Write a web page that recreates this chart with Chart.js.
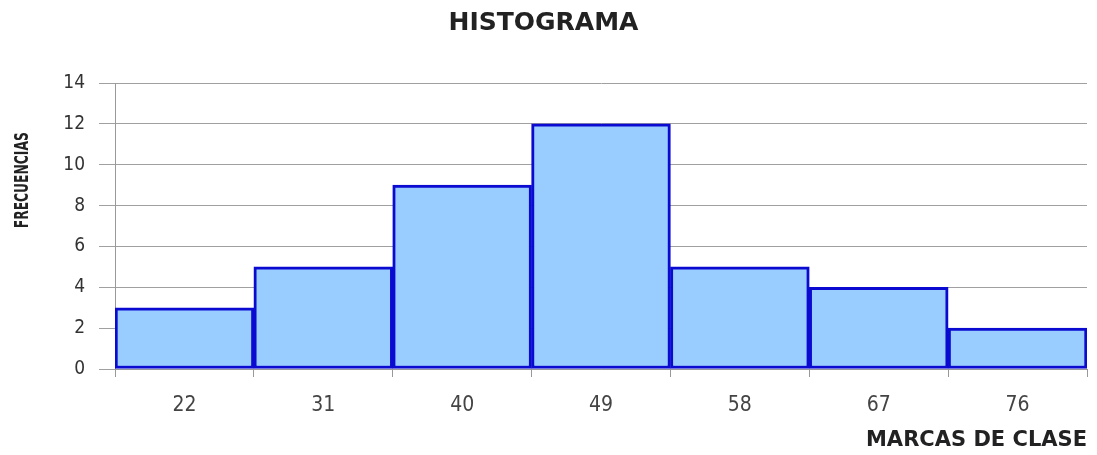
<!DOCTYPE html>
<html>
<head>
<meta charset="utf-8">
<script src="https://cdn.jsdelivr.net/npm/chart.js@4"></script>
<style>
html,body{margin:0;padding:0;background:#fff;}
#wrap{width:1097px;height:455px;}
</style>
</head>
<body>
<div id="wrap"><canvas id="c" width="1097" height="455"></canvas></div>
<script>
const categories = ['22', '31', '40', '49', '58', '67', '76'];
const frecuencias = [3, 5, 9, 12, 5, 4, 2];
const yTicks = [0, 2, 4, 6, 8, 10, 12, 14];
const yTitle = 'FRECUENCIAS';

// condensed, rotated y-axis title (placed to the left of the axis labels)
const yTitlePlugin = {
  id: 'yTitlePlugin',
  afterDraw(chart) {
    const c = chart.ctx;
    const area = chart.chartArea;
    c.save();
    c.font = 'bold 20px "DejaVu Sans Condensed"';
    c.fillStyle = '#222';
    c.textAlign = 'center';
    c.textBaseline = 'middle';
    const w = c.measureText(yTitle).width;
    const target = 96;
    c.translate(23, area.top + (area.bottom - area.top) * 0.34);
    c.rotate(-Math.PI / 2);
    c.scale(target / w, 1);
    c.fillText(yTitle, 0, 0);
    c.restore();
  }
};

const ctx = document.getElementById('c').getContext('2d');
new Chart(ctx, {
  type: 'bar',
  data: {
    labels: categories,
    datasets: [{
      data: frecuencias,
      backgroundColor: '#99ccff',
      borderColor: '#0a0ad0',
      borderWidth: 3,
      borderSkipped: false,
      categoryPercentage: 1.0,
      barPercentage: 1.0
    }]
  },
  plugins: [yTitlePlugin],
  options: {
    responsive: false,
    animation: false,
    devicePixelRatio: 1,
    layout: { padding: { left: 0, right: 10, top: 0, bottom: 0 } },
    plugins: {
      legend: { display: false },
      tooltip: { enabled: false },
      title: {
        display: true,
        text: 'HISTOGRAMA',
        color: '#222',
        font: { family: 'DejaVu Sans', weight: 'bold', size: 25 },
        padding: { top: 8, bottom: 45 }
      }
    },
    scales: {
      x: {
        grid: { offset: true, drawOnChartArea: false, drawTicks: true, tickLength: 8, color: '#999' },
        border: { color: '#999', width: 1 },
        ticks: { color: '#444', font: { family: 'DejaVu Sans Condensed', size: 21 }, padding: 16 },
        title: {
          display: true, text: 'MARCAS DE CLASE', align: 'end', color: '#222',
          font: { family: 'DejaVu Sans', weight: 'bold', size: 21 },
          padding: { top: 0, bottom: 2 }
        },
        afterFit: (s) => { s.height = 86; }
      },
      y: {
        min: 0, max: 14,
        afterBuildTicks: (s) => { s.ticks = yTicks.map(v => ({ value: v })); },
        grid: { color: '#a0a0a0', tickLength: 16, lineWidth: 1 },
        border: { color: '#999', width: 1 },
        ticks: { color: '#333', font: { family: 'DejaVu Sans Condensed', size: 19 }, padding: 14 },
        afterFit: (s) => { s.width = 115; }
      }
    }
  }
});
</script>
</body>
</html>
